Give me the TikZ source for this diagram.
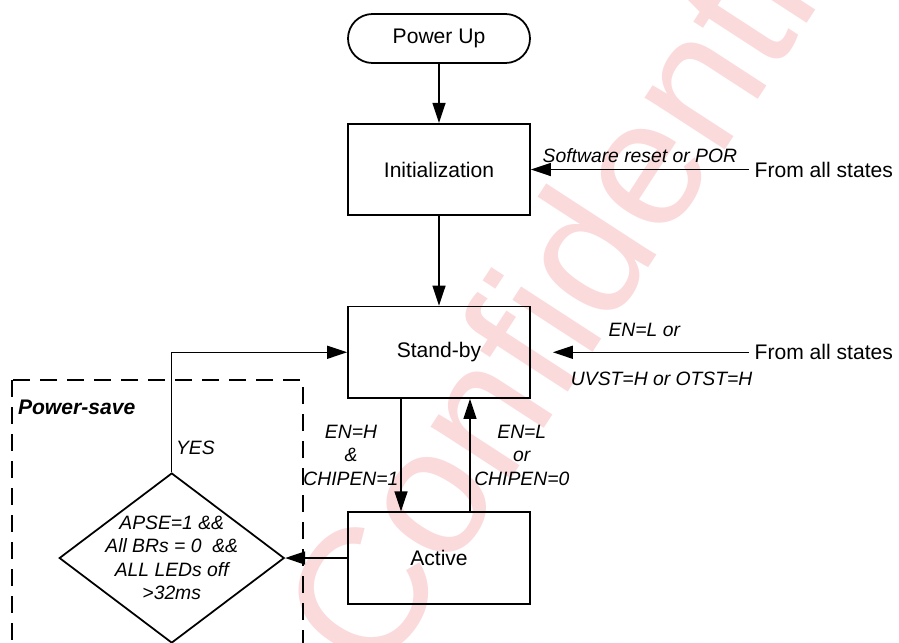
\documentclass[tikz,border=0pt]{standalone}
\usepackage{fontspec}
\setmainfont{Liberation Sans}
\usepackage{xcolor}
\usepackage{tikz}
\usetikzlibrary{arrows.meta}
\usetikzlibrary{shapes.geometric}
\usetikzlibrary{positioning}

\definecolor{wmpink}{RGB}{251,218,220}

\begin{document}
\begin{tikzpicture}[-,auto,node distance=2.5cm, semithick]
	\tikzstyle{stbox}=[rectangle, draw=black, line width=1pt, minimum width=3.64cm, minimum height=1.83cm, font=\fontsize{12}{14}\selectfont]
	\tikzstyle{term}=[rectangle, rounded corners=0.49cm, draw=black, line width=1pt, minimum width=3.64cm, minimum height=0.98cm, font=\fontsize{12}{14}\selectfont]
	\tikzstyle{dec}=[diamond, draw=black, line width=1pt, aspect=1.32, inner sep=-6pt, minimum width=4.5cm, minimum height=3.4cm, align=center, font=\fontsize{11}{13.3}\selectfont\itshape]
	\tikzstyle{arr}=[-{Triangle[length=0.4cm,width=0.26cm]}, line width=0.85pt]
	\tikzstyle{lbl}=[font=\fontsize{12}{14}\selectfont, inner sep=3pt]
	\tikzstyle{cond}=[font=\fontsize{11}{13.3}\selectfont\itshape, align=center]
	\tikzstyle{psbox}=[line width=1pt, dash pattern=on 0.34cm off 0.2cm]
	\tikzstyle{wmark}=[anchor=base west, rotate=57, inner sep=0pt, text=wmpink, font=\fontsize{103}{103}\selectfont]

		\useasboundingbox (0,0) rectangle (17.98,-12.84);

		% watermark
		\node[wmark] (wm) at (7.56,-13.68) {Confidential};

		\node[term]  (1) at (8.78,-0.77) {Power Up};
		\node[stbox] (2) [below=1.18cm of 1] {Initialization};
		\node[stbox] (3) [below=1.79cm of 2] {Stand-by};
		\node[stbox] (4) [below=2.25cm of 3] {Active};
		\node[dec]   (5) [left=1.24cm of 4] {APSE=1 \&\&\\All BRs = 0 \ \&\&\\ALL LEDs off\\>32ms};
		\node[lbl]   (6) [right=4.36cm of 2] {From all states};
		\node[lbl]   (7) [right=4.36cm of 3] {From all states};

		% power-save region
		\draw[psbox] (0.24,-7.6) rectangle (6.06,-13.3);
		\node[anchor=west, inner sep=0.05cm, font=\fontsize{12}{14}\selectfont\bfseries\itshape] (8) at (0.3,-8.14) {Power-save};

		\draw[arr] (1) -- (2);
		\draw[arr] (2) -- (3);
		\draw[arr] (6) -- node[above, cond] {Software reset or POR} (2);
		\draw[arr, shorten >=0.44cm] (7) -- node[above, cond, pos=0.48, yshift=0.18cm] {EN=L or} node[below, cond, pos=0.4, yshift=-0.27cm] {UVST=H or OTST=H} (3);
		\draw[arr] ([xshift=-0.76cm]3.south) -- node[left, cond, inner sep=1pt] {EN=H\\\&\\CHIPEN=1} ([xshift=-0.76cm]4.north);
		\draw[arr] ([xshift=0.62cm]4.north) -- node[right, cond, inner sep=2pt] {EN=L\\or\\CHIPEN=0} ([xshift=0.62cm]3.south);
		\draw[arr] (4.west) -- (5.east);
		\draw[arr] (5.north) |- node[right, cond, pos=0.1, inner sep=2pt] {YES} (3.west);
\end{tikzpicture}
\end{document}
